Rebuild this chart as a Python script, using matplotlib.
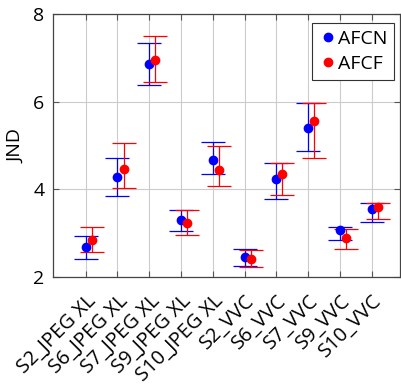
import numpy as np
import matplotlib
matplotlib.use("Agg")
import matplotlib.pyplot as plt
import matplotlib.transforms as mtransforms

plt.rcParams['font.family'] = ['Open Sans', 'DejaVu Sans']
plt.rcParams['font.size'] = 14

# categorias e valores
labels = ["S2_JPEG XL", "S6_JPEG XL", "S7_JPEG XL", "S9_JPEG XL", "S10_JPEG XL",
          "S2_VVC", "S6_VVC", "S7_VVC", "S9_VVC", "S10_VVC"]

afcn_mean = [2.69, 4.27, 6.85, 3.29, 4.68, 2.46, 4.23, 5.41, 3.07, 3.56]
afcn_low = [2.42, 3.85, 6.37, 3.04, 4.34, 2.26, 3.78, 4.88, 2.85, 3.26]
afcn_high = [2.93, 4.72, 7.34, 3.53, 5.07, 2.63, 4.60, 5.96, 3.13, 3.69]

afcf_mean = [2.85, 4.47, 6.96, 3.23, 4.45, 2.41, 4.35, 5.55, 2.89, 3.59]
afcf_low = [2.56, 4.02, 6.46, 2.96, 4.07, 2.23, 3.86, 4.72, 2.64, 3.33]
afcf_high = [3.15, 5.05, 7.49, 3.52, 5.00, 2.62, 4.60, 5.96, 3.09, 3.69]

x = np.arange(len(labels))
offset = 0.19

fig = plt.figure(figsize=(4.01, 3.86), dpi=100)
ax = fig.add_axes([0.132, 0.2824, 0.865, 0.6813])


def draw(xs, mean, low, high, color, name):
    mean = np.array(mean)
    err = [mean - np.array(low), np.array(high) - mean]
    ax.errorbar(xs, mean, yerr=err, fmt="none", ecolor=color, elinewidth=0.9,
                capsize=8.6, capthick=0.9, zorder=3)
    ax.plot(xs, mean, "o", color=color, markersize=6, label=name, zorder=4)


draw(x, afcn_mean, afcn_low, afcn_high, "#0000ff", "AFCN")
draw(x + offset, afcf_mean, afcf_low, afcf_high, "#ff0000", "AFCF")

ax.set_xlim(-1.03, 9.88)
ax.set_ylim(2, 8)
ax.set_yticks([2, 4, 6, 8])
ax.set_xticks(x)
ax.set_xticklabels(labels, rotation=45, ha="right", va="top",
                   rotation_mode="anchor", fontsize=14.5)
# deslocar os rótulos um pouco para a direita, como no original
shift = mtransforms.ScaledTranslation(13 / 100, 0, fig.dpi_scale_trans)
for lbl in ax.get_xticklabels():
    lbl.set_transform(lbl.get_transform() + shift)
ax.tick_params(axis="x", pad=10)
ax.tick_params(axis="y", pad=6)
ax.tick_params(direction="in", top=True, right=True, length=4, color="#555555")
ax.grid(True, color="#cccccc", linewidth=0.8)
ax.set_axisbelow(True)
for s in ax.spines.values():
    s.set_color("#444444")
    s.set_linewidth(0.9)
ax.set_ylabel("JND", labelpad=6)

leg = ax.legend(loc="upper right", bbox_to_anchor=(0.995, 0.98), fancybox=False,
                framealpha=1, edgecolor="#333333", handletextpad=0.0,
                handlelength=1.0, borderpad=0.35, labelspacing=0.35,
                borderaxespad=0.2, fontsize=14)
leg.get_frame().set_linewidth(0.8)

fig.savefig("out.png", dpi=100)
